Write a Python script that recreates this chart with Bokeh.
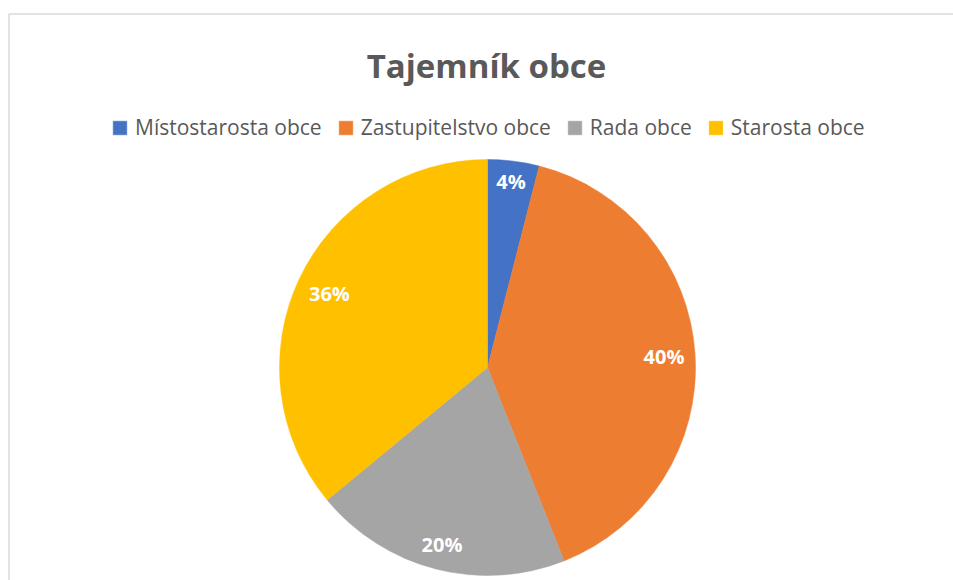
import math
from bokeh.plotting import figure
from bokeh.models import Range1d, ColumnDataSource, Legend, LegendItem
from bokeh.core.properties import value
from bokeh.embed import file_html
from bokeh.resources import INLINE

# ---- data ----
title_text = "Tajemník obce"
categories = ["Místostarosta obce", "Zastupitelstvo obce", "Rada obce", "Starosta obce"]
shares = [4, 40, 20, 36]
colors = ["#4472C4", "#ED7D31", "#A5A5A5", "#FFC000"]

# ---- layout (pixels, canvas coords with y up) ----
W, H = 953, 580
cx, cy, R = 487, 213, 208
label_factor = [0.9, 0.85, 0.88, 0.84]

total = float(sum(shares))
starts, ends, lx, ly, labels = [], [], [], [], []
cum = 0.0
for i, s in enumerate(shares):
    a0 = math.pi / 2 - 2 * math.pi * cum / total
    a1 = math.pi / 2 - 2 * math.pi * (cum + s) / total
    mid = math.pi / 2 - 2 * math.pi * (cum + s / 2) / total
    starts.append(a0)
    ends.append(a1)
    lx.append(cx + label_factor[i] * R * math.cos(mid))
    ly.append(cy + label_factor[i] * R * math.sin(mid))
    labels.append(f"{s}%")
    cum += s

src = ColumnDataSource(dict(cat=categories, start=starts, end=ends, color=colors,
                            lx=lx, ly=ly, label=labels))

p = figure(width=W, height=H, x_range=Range1d(0, W), y_range=Range1d(0, H),
           output_backend="svg", toolbar_location=None, min_border=0,
           x_axis_type=None, y_axis_type=None)
p.grid.visible = False
p.outline_line_color = None
p.background_fill_color = "white"
p.border_fill_color = "white"

# chart border (light gray)
p.line([8.5, 8.5, W + 5], [-5, 566.5, 566.5], line_color="#D9D9D9", line_width=1.5)

r = p.wedge(x=cx, y=cy, radius=R, start_angle="start", end_angle="end",
            direction="clock", fill_color="color", line_color="color",
            line_width=0.5, source=src)

p.text(x="lx", y="ly", text="label", source=src, text_color="white",
       text_font=value("Open Sans"), text_font_style="bold", text_font_size="20px",
       text_align="center", text_baseline="middle")

p.text(x=[486], y=[515], text=[title_text], text_color="#595959",
       text_font=value("Open Sans"), text_font_style="bold", text_font_size="33px",
       text_align="center", text_baseline="alphabetic")

items = [LegendItem(label=c, renderers=[r], index=i) for i, c in enumerate(categories)]
legend = Legend(items=items, orientation="horizontal", location=(111, 439),
                glyph_width=17, glyph_height=17, label_standoff=7, spacing=15,
                padding=0, margin=0, border_line_color=None, background_fill_alpha=0,
                label_text_font="Open Sans", label_text_font_size="21px",
                label_text_color="#595959", label_height=20)
p.add_layout(legend)

open("out.html", "w").write(file_html(p, INLINE))
